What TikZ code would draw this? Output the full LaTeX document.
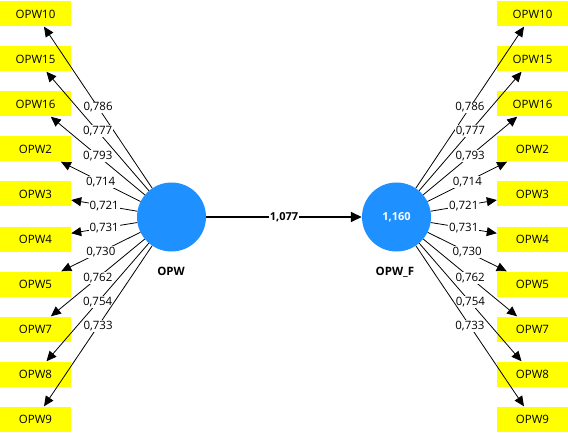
\documentclass[tikz,border=0pt]{standalone}
\usepackage{fontspec}
\setmainfont{Open Sans}
\usetikzlibrary{arrows.meta}
\definecolor{lvblue}{HTML}{1E90FF}
\definecolor{indyellow}{HTML}{FFFF00}
\tikzset{
  indbox/.style={rectangle, fill=indyellow, minimum width=71pt, minimum height=25pt, inner sep=0pt, font=\fontsize{11.5}{13}\selectfont},
  latent/.style={circle, fill=lvblue, minimum size=69pt, inner sep=0pt, text=white, font=\bfseries\fontsize{11}{13}\selectfont},
  lvname/.style={font=\bfseries\fontsize{11.5}{13}\selectfont, inner sep=0pt},
  loading/.style={-{Triangle[length=10pt,width=9pt]}, line width=0.8pt},
  path/.style={-{Triangle[length=11pt,width=10pt]}, line width=1.6pt},
  wlabel/.style={fill=white, inner sep=1pt, font=\fontsize{11.5}{13}\selectfont},
  plabel/.style={fill=white, inner sep=1pt, font=\bfseries\fontsize{11}{13}\selectfont}
}
\begin{document}
\begin{tikzpicture}[x=1pt,y=-1pt]
\useasboundingbox (0,0) rectangle (568,433);
\node[latent] (opw) at (171.5,217) {};
\node[latent] (opwf) at (396.5,217) {1,160};
\node[lvname] (opwlab) at (171,271) {OPW};
\node[lvname] (opwflab) at (395,272) {OPW\_F};
% left indicators
\node[indbox] (l10) at (35.5,14) {OPW10};
\node[indbox] (l15) at (35.5,59) {OPW15};
\node[indbox] (l16) at (35.5,104) {OPW16};
\node[indbox] (l2) at (35.5,149) {OPW2};
\node[indbox] (l3) at (35.5,194) {OPW3};
\node[indbox] (l4) at (35.5,239) {OPW4};
\node[indbox] (l5) at (35.5,284) {OPW5};
\node[indbox] (l7) at (35.5,329) {OPW7};
\node[indbox] (l8) at (35.5,374) {OPW8};
\node[indbox] (l9) at (35.5,419) {OPW9};
% right indicators
\node[indbox] (r10) at (532.5,14) {OPW10};
\node[indbox] (r15) at (532.5,59) {OPW15};
\node[indbox] (r16) at (532.5,104) {OPW16};
\node[indbox] (r2) at (532.5,149) {OPW2};
\node[indbox] (r3) at (532.5,194) {OPW3};
\node[indbox] (r4) at (532.5,239) {OPW4};
\node[indbox] (r5) at (532.5,284) {OPW5};
\node[indbox] (r7) at (532.5,329) {OPW7};
\node[indbox] (r8) at (532.5,374) {OPW8};
\node[indbox] (r9) at (532.5,419) {OPW9};
% left loadings
\foreach \b/\v in {l10/0{,}786, l15/0{,}777, l16/0{,}793, l2/0{,}714, l3/0{,}721, l4/0{,}731, l5/0{,}730, l7/0{,}762, l8/0{,}754, l9/0{,}733}
  \draw[loading] (opw) -- node[wlabel] {\v} (\b);
\foreach \b/\v in {r10/0{,}786, r15/0{,}777, r16/0{,}793, r2/0{,}714, r3/0{,}721, r4/0{,}731, r5/0{,}730, r7/0{,}762, r8/0{,}754, r9/0{,}733}
  \draw[loading] (opwf) -- node[wlabel] {\v} (\b);
\draw[path] (opw) -- node[plabel] {1,077} (opwf);
\end{tikzpicture}
\end{document}
